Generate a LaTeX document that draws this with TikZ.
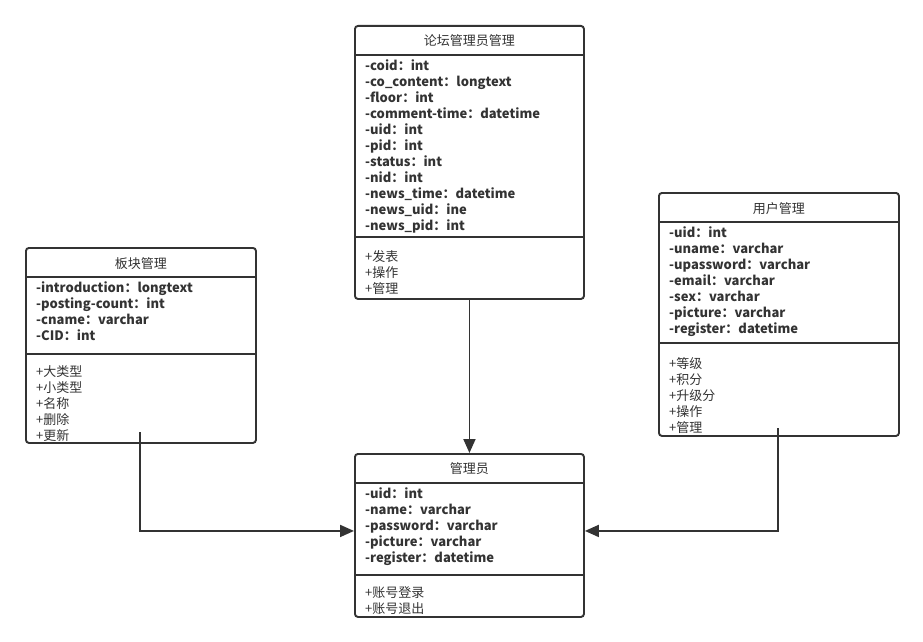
\documentclass[tikz,border=0pt]{standalone}
\usepackage{fontspec}
\setmainfont{Noto Sans CJK SC}
\usepackage{tikz}
\usetikzlibrary{positioning, calc, arrows.meta}
\definecolor{linegray}{HTML}{333333}

\begin{document}
\begin{tikzpicture}[
        x=1pt, y=-1pt,
        every node/.style={font=\fontsize{13}{16}\selectfont, text=linegray},
        classbox/.style={draw=linegray, line width=1.9pt, rounded corners=3pt, anchor=north west, inner sep=0pt},
        sep/.style={draw=linegray, line width=1.9pt},
        title/.style={anchor=center, inner sep=0pt},
        attrs/.style={anchor=north west, align=left, inner sep=0pt, font=\fontsize{13}{16}\selectfont\bfseries},
        ops/.style={anchor=north west, align=left, inner sep=0pt},
        link/.style={draw=linegray, line width=1.9pt, -{Triangle[length=14pt, width=12pt]}}
    ]
        \useasboundingbox (0,0) rectangle (923,642);

        % Boxes
        \node[classbox, minimum width=229pt, minimum height=273pt] (forum) at (354,25) {};
        \node[classbox, minimum width=230pt, minimum height=195pt] (board) at (25,247) {};
        \node[classbox, minimum width=240pt, minimum height=243pt] (user) at (658,192) {};
        \node[classbox, minimum width=229pt, minimum height=163pt] (admin) at (354,453) {};

        % Separators
        \draw[sep] ($(forum.north west)+(0,30)$) -- ($(forum.north east)+(0,30)$);
        \draw[sep] ($(forum.north west)+(0,212)$) -- ($(forum.north east)+(0,212)$);
        \draw[sep] ($(board.north west)+(0,30)$) -- ($(board.north east)+(0,30)$);
        \draw[sep] ($(board.north west)+(0,107)$) -- ($(board.north east)+(0,107)$);
        \draw[sep] ($(user.north west)+(0,30)$) -- ($(user.north east)+(0,30)$);
        \draw[sep] ($(user.north west)+(0,151)$) -- ($(user.north east)+(0,151)$);
        \draw[sep] ($(admin.north west)+(0,30)$) -- ($(admin.north east)+(0,30)$);
        \draw[sep] ($(admin.north west)+(0,122)$) -- ($(admin.north east)+(0,122)$);

        % Titles
        \node[title] (forumtitle) at ($(forum.north)+(0,16)$) {论坛管理员管理};
        \node[title] (boardtitle) at ($(board.north)+(0,17)$) {板块管理};
        \node[title] (usertitle) at ($(user.north)+(0,17)$) {用户管理};
        \node[title] (admintitle) at ($(admin.north)+(0,16)$) {管理员};

        % Attributes
        \node[attrs] (forumattrs) at ($(forum.north west)+(11,34)$) {-coid：int\\-co\_content：longtext\\-floor：int\\-comment-time：datetime\\-uid：int\\-pid：int\\-status：int\\-nid：int\\-news\_time：datetime\\-news\_uid：ine\\-news\_pid：int};
        \node[attrs] (boardattrs) at ($(board.north west)+(11,34)$) {-introduction：longtext\\-posting-count：int\\-cname：varchar\\-CID：int};
        \node[attrs] (userattrs) at ($(user.north west)+(11,34)$) {-uid：int\\-uname：varchar\\-upassword：varchar\\-email：varchar\\-sex：varchar\\-picture：varchar\\-register：datetime};
        \node[attrs] (adminattrs) at ($(admin.north west)+(11,34)$) {-uid：int\\-name：varchar\\-password：varchar\\-picture：varchar\\-register：datetime};

        % Operations
        \node[ops] (forumops) at ($(forum.north west)+(11,225)$) {+发表\\+操作\\+管理};
        \node[ops] (boardops) at ($(board.north west)+(11,118)$) {+大类型\\+小类型\\+名称\\+删除\\+更新};
        \node[ops] (userops) at ($(user.north west)+(11,165)$) {+等级\\+积分\\+升级分\\+操作\\+管理};
        \node[ops] (adminops) at ($(admin.north west)+(11,133)$) {+账号登录\\+账号退出};

        % Arrows
        \coordinate (boardtail) at (140,432);
        \coordinate (usertail) at (778,428);
        \draw[link] (forum.south) -- (admin.north);
        \draw[link] (boardtail) |- ($(admin.west)+(0,-4.5)$);
        \draw[link] (usertail) |- ($(admin.east)+(0,-4.5)$);
    \end{tikzpicture}
\end{document}
